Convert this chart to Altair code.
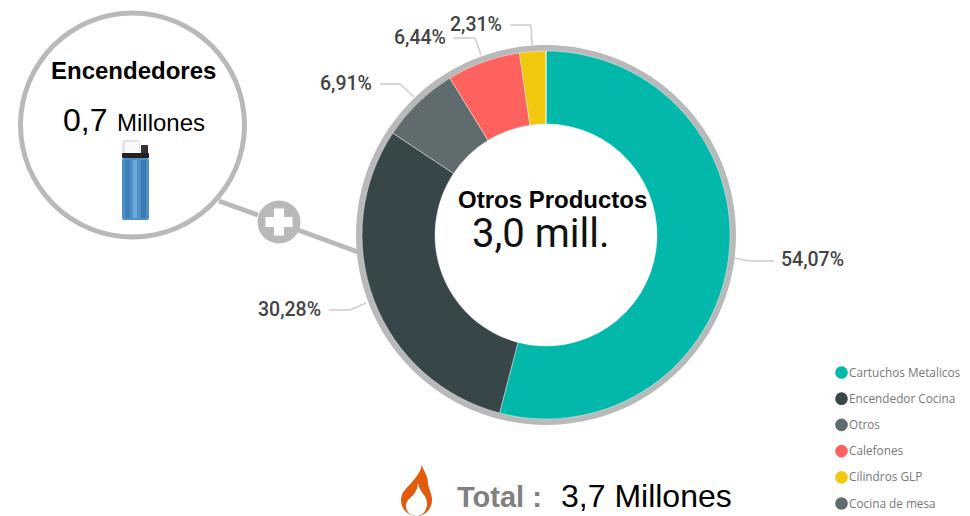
import altair as alt
import pandas as pd

categories = ["Cartuchos Metalicos", "Encendedor Cocina", "Otros", "Calefones", "Cilindros GLP", "Cocina de mesa"]
shares = [54.07, 30.28, 6.91, 6.44, 2.31, 0.0]
slice_colors = ["#01B8AA", "#374649", "#5F6B6D", "#FD625E", "#F2C80F", "#5F6B6D"]
value_labels = ["54,07%", "30,28%", "6,91%", "6,44%", "2,31%"]

df = pd.DataFrame({"cat": categories, "share": shares, "ord": range(len(categories))})
one = pd.DataFrame({"a": [0]})
RING = "#B9B9B9"
LEAD = "#CFCFCF"


def X(v):
    return alt.value(v - 8)


def Y(v):
    return alt.value(v - 8)


def text(s, x, y, size, color="#000000", font="Liberation Sans", weight="normal", align="left"):
    return alt.Chart(one).mark_text(text=s, fontSize=size, color=color, font=font, fontWeight=weight,
                                    align=align, baseline="alphabetic").encode(x=X(x), y=Y(y))


def seg(x1, y1, x2, y2, color=LEAD, w=1.6):
    return alt.Chart(one).mark_rule(color=color, strokeWidth=w).encode(x=X(x1), y=Y(y1), x2=X(x2), y2=Y(y2))


def box(x1, y1, x2, y2, fill, radius=0):
    return alt.Chart(one).mark_rect(fill=fill, cornerRadius=radius, opacity=1).encode(x=X(x1), y=Y(y1), x2=X(x2), y2=Y(y2))


def shape(path, x, y, fill):
    return alt.Chart(one).mark_point(shape=path, size=4, filled=True, fill=fill, opacity=1, strokeWidth=0).encode(x=X(x), y=Y(y))


CX, CY = 546, 235

ring = alt.Chart(one).mark_arc(radius=190, radius2=183.5, theta=0, theta2=6.2832, fill=RING).encode(x=X(CX), y=Y(CY))

donut = alt.Chart(df).mark_arc(radius=184, radius2=111, stroke="#FFFFFF", strokeWidth=0.4).encode(
    x=X(CX), y=Y(CY),
    theta=alt.Theta("share:Q", stack=True, scale=alt.Scale(domain=[0, sum(shares)], range=[0, 6.28319])),
    order=alt.Order("ord:Q"),
    color=alt.Color("cat:N", scale=alt.Scale(domain=categories, range=slice_colors),
                    legend=alt.Legend(title=None, orient="none", legendX=827, legendY=358,
                                      symbolType="circle", symbolSize=160, symbolStrokeWidth=0,
                                      labelFont="Open Sans", labelFontSize=11.8, labelColor="#777777",
                                      labelOffset=1, rowPadding=12.2, labelLimit=200, symbolOffset=0,
                                      padding=0)),
)

lens = alt.Chart(one).mark_arc(radius=114.5, radius2=109.5, theta=0, theta2=6.2832, fill=RING).encode(x=X(132.5), y=Y(125))
plus_circle = alt.Chart(one).mark_arc(radius=21.5, radius2=0, theta=0, theta2=6.2832, fill=RING).encode(x=X(279), y=Y(222))

plus_sign = "M-5,-13.5 L5,-13.5 L5,-5 L13.5,-5 L13.5,5 L5,5 L5,13.5 L-5,13.5 L-5,5 L-13.5,5 L-13.5,-5 L-5,-5 Z"
flame = (
    "M5.5,-26 C8,-20 12,-15 12,-8 C12,-3 16,2 16,9 C16,18 9,25 1,25 C-8,25 -15,18 -15,9 "
    "C-15,1 -9,-3 -4,-9 C0,-14 5,-19 5.5,-26 Z"
)
flame_inner = (
    "M2,-8 C3,-3 5,0 8,4 C11,8 12,13 10,18 C8,23 4,25 0,25 C-5,25 -10,21 -10,15 "
    "C-10,9 -5,7 -2,3 C0,0 2,-4 2,-8 Z"
)

layers = [
    seg(219, 201, 258, 215, RING, 5),
    seg(298, 230, 358, 252, RING, 5),
    lens,
    plus_circle,
    shape(plus_sign, 279, 222, "#FFFFFF"),
    ring,
    donut,
    seg(734, 258, 750, 261),
    seg(750, 261, 774, 261),
    seg(329, 310, 350, 310),
    seg(350, 310, 366, 303),
    seg(380, 84, 400, 84),
    seg(400, 84, 414, 97),
    seg(453, 38, 475, 38),
    seg(475, 38, 481, 55),
    seg(510, 25, 531, 25),
    seg(531, 25, 532, 45),
    text(value_labels[0], 781, 266, 19.5, "#444444", "Roboto", weight=500),
    text(value_labels[1], 258, 316, 19.5, "#444444", "Roboto", weight=500),
    text(value_labels[2], 320, 90, 19.5, "#444444", "Roboto", weight=500),
    text(value_labels[3], 394, 44, 19.5, "#444444", "Roboto", weight=500),
    text(value_labels[4], 450, 31, 19.5, "#444444", "Roboto", weight=500),
    text("Otros Productos", 458, 208, 24, weight="bold"),
    text("3,0 mill.", 472, 247, 40, "#111111", "Roboto"),
    text("Encendedores", 51, 79, 24, weight="bold"),
    text("0,7", 63, 131, 32),
    text("Millones", 117, 131, 24),
    box(122, 140, 140, 154, "#E4E4E4", 3),
    box(125, 142, 139, 153, "#FAFAFA", 1),
    box(141, 145, 148, 154, "#333333", 1),
    box(122, 153, 149, 158, "#222222", 1),
    box(122, 158, 149, 220, "#4C8FC9", 2),
    box(125, 160, 130, 218, "#3F7FB8"),
    box(133, 160, 137, 218, "#6FA8D8"),
    box(141, 160, 146, 218, "#3C78AE"),
    shape(flame, 416, 491, "#E25A0E"),
    shape(flame_inner, 416, 491, "#FFFFFF"),
    text("Total :", 457, 507, 29, "#808080", weight="bold"),
    text("3,7 Millones", 561, 507, 32),
]

chart = alt.layer(*layers).properties(
    width=954, height=508, padding=0, autosize=alt.AutoSizeParams(type="none"),
).configure_view(stroke=None)

chart.save("out.html", embed_options={"renderer": "svg", "actions": False})
